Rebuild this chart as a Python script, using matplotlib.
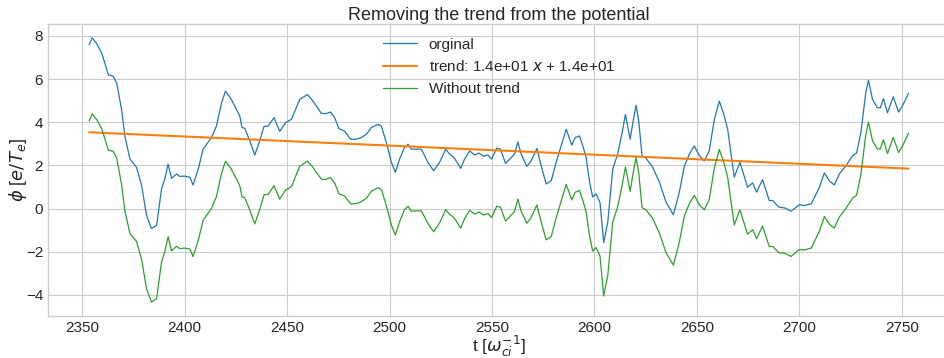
import numpy as np
import matplotlib
matplotlib.use('Agg')
import matplotlib.pyplot as plt

# casovna os in potencial (odcitano s slike)
t = [2353.4, 2354.9, 2357.0, 2359.5, 2361.0, 2362.7, 2365.1, 2366.8, 2369.2, 2370.8,
     2373.3, 2376.5, 2379.0, 2381.4, 2383.8, 2386.3, 2388.7, 2390.3, 2391.9, 2393.6,
     2396.0, 2397.6, 2400.0, 2402.5, 2404.1, 2406.6, 2409.0, 2413.1, 2415.5, 2418.0,
     2419.9, 2422.5, 2425.3, 2426.9, 2428.0, 2429.3, 2431.8, 2434.2, 2436.6, 2438.7,
     2440.7, 2443.6, 2446.4, 2449.2, 2452.1, 2456.1, 2459.9, 2462.6, 2466.7, 2469.1,
     2471.2, 2473.2, 2475.3, 2478.0, 2481.0, 2483.8, 2486.2, 2488.7, 2491.1, 2494.3,
     2496.0, 2498.4, 2500.9, 2502.8, 2504.9, 2507.3, 2509.0, 2510.6, 2512.2, 2515.5,
     2518.7, 2521.5, 2524.4, 2527.4, 2529.3, 2531.4, 2534.7, 2536.6, 2539.1, 2541.5,
     2543.6, 2545.9, 2548.0, 2549.8, 2552.3, 2554.1, 2556.6, 2559.4, 2561.0, 2562.6,
     2564.2, 2567.0, 2569.1, 2571.9, 2574.0, 2576.4, 2578.9, 2581.3, 2583.7, 2586.2,
     2588.9, 2590.6, 2592.7, 2594.3, 2595.9, 2597.5, 2599.1, 2600.8, 2602.7, 2604.5,
     2606.5, 2608.9, 2611.3, 2613.5, 2615.1, 2617.4, 2619.0, 2620.3, 2621.6, 2623.2,
     2625.2, 2628.4, 2631.7, 2634.9, 2638.5, 2641.4, 2643.9, 2646.3, 2648.7, 2651.2,
     2653.6, 2656.0, 2658.5, 2660.9, 2663.0, 2665.0, 2668.2, 2671.0, 2674.7, 2677.2,
     2679.1, 2682.0, 2685.3, 2687.0, 2689.9, 2693.1, 2695.9, 2699.9, 2702.5, 2705.8,
     2709.8, 2712.2, 2714.6, 2717.0, 2719.5, 2722.7, 2725.9, 2727.9, 2730.0, 2732.4,
     2733.7, 2735.7, 2738.1, 2739.5, 2741.0, 2743.0, 2745.8, 2748.4, 2750.3, 2753.2]

phi = [7.59, 7.91, 7.65, 7.20, 6.75, 6.20, 6.13, 5.82, 4.59, 3.36,
       2.29, 1.91, 1.06, -0.32, -0.93, -0.78, 0.91, 1.37, 2.06, 1.40,
       1.60, 1.49, 1.50, 1.45, 1.09, 1.83, 2.75, 3.29, 3.82, 4.90,
       5.44, 5.10, 4.59, 4.28, 3.75, 3.72, 3.13, 2.48, 3.13, 3.80,
       3.82, 4.21, 3.57, 3.98, 4.13, 5.05, 5.28, 4.98, 4.41, 4.40,
       4.47, 4.21, 3.70, 3.59, 3.21, 3.21, 3.29, 3.44, 3.75, 3.90,
       3.82, 3.06, 2.14, 1.68, 2.29, 2.83, 2.98, 2.75, 2.75, 2.75,
       2.14, 1.75, 2.14, 2.75, 2.52, 2.37, 1.86, 2.29, 2.67, 2.48,
       2.57, 2.42, 2.48, 2.29, 2.80, 2.75, 2.09, 2.37, 2.52, 3.09,
       2.52, 1.95, 2.21, 2.78, 1.98, 1.14, 1.29, 2.14, 2.90, 3.67,
       2.94, 3.29, 3.36, 2.90, 2.37, 1.29, 0.53, 0.68, 0.27, -1.58,
       -0.62, 1.83, 2.52, 3.52, 4.36, 3.21, 4.13, 4.78, 4.05, 2.44,
       2.32, 1.91, 1.22, 0.30, -0.29, 0.76, 1.98, 2.52, 2.90, 2.44,
       2.21, 2.67, 4.13, 4.98, 4.40, 3.67, 1.45, 2.14, 0.99, 1.19,
       0.76, 1.34, 0.37, 0.37, 0.07, 0.02, -0.13, 0.17, 0.14, 0.22,
       0.99, 1.65, 1.29, 1.09, 1.60, 1.98, 2.44, 2.57, 3.52, 5.36,
       5.94, 5.05, 4.67, 4.67, 5.09, 4.44, 5.18, 4.47, 4.75, 5.33]

# linearni trend (naklon in odsek)
naklon = -0.00421
odsek = 13.44

t = np.array(t)
phi = np.array(phi)
trend = naklon * t + odsek
brez_trenda = phi - trend

plt.style.use('seaborn-v0_8-whitegrid')
plt.rcParams['font.family'] = ['Liberation Sans', 'DejaVu Sans']

fig = plt.figure(figsize=(9.45, 3.58), dpi=100)
ax = fig.add_axes([48/945, 42/358, 902/945, 292/358])

ax.plot(t, phi, color='C0', linewidth=0.9, label='orginal')
ax.plot(t, trend, color='C1', linewidth=1.5, label='trend: 1.4e+01 $x$ + 1.4e+01')
ax.plot(t, brez_trenda, color='C2', linewidth=0.9, label='Without trend')

ax.set_xlim(2333.3, 2773.5)
ax.set_ylim(-4.98, 8.55)
ax.set_xticks([2350, 2400, 2450, 2500, 2550, 2600, 2650, 2700, 2750])
ax.set_yticks([-4, -2, 0, 2, 4, 6, 8])
ax.tick_params(labelsize=11)

ax.set_title('Removing the trend from the potential', fontsize=13, pad=3)
ax.set_xlabel(r't [$\omega_{ci}^{-1}$]', fontsize=12.5, labelpad=-0.5)
ax.set_ylabel(r'$\phi$ [$e/T_e$]', fontsize=13, labelpad=-2)
ax.legend(loc='upper center', fontsize=11, handlelength=2.2, borderaxespad=0.5)

fig.savefig('out.png', dpi=100)
